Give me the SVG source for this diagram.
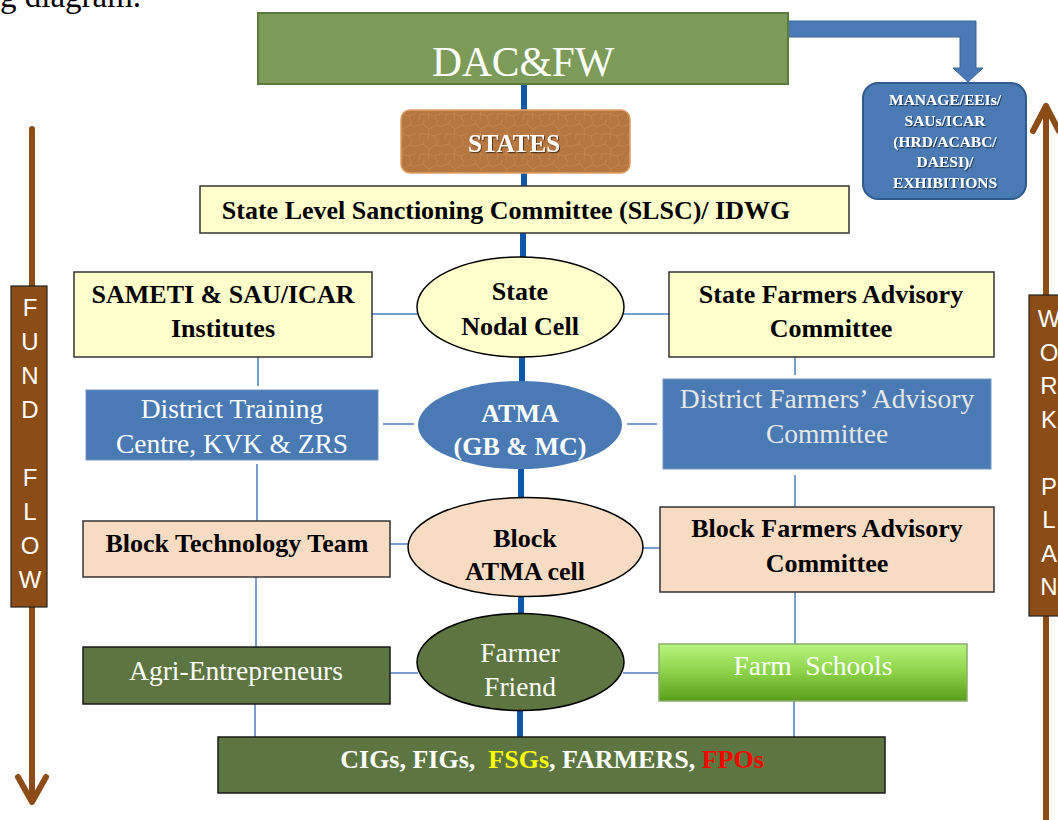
<svg xmlns="http://www.w3.org/2000/svg" width="1058" height="820" viewBox="0 0 1058 820">
<defs>
<style>
.bt{font-family:"Liberation Serif",serif;font-weight:bold;font-size:26px;text-anchor:middle;fill:#000}
.rt{font-family:"Liberation Serif",serif;font-size:27.5px;text-anchor:middle;fill:#fff}
.thin{stroke:#4a7ebb;stroke-width:1.5;fill:none}
.thick{stroke:#0f57a8;stroke-width:6;fill:none}
.yel{fill:#ffffcc;stroke:#333;stroke-width:1.5}
.peach{fill:#f8dbc3;stroke:#333;stroke-width:1.5}
.dgreen{fill:#5d7541;stroke:#1a1a1a;stroke-width:1.5}
.blue{fill:#4a7ab4}
.brown{fill:#8b4c16;stroke:#222;stroke-width:1.2}
.arr{stroke:#8b4c16;stroke-width:6;fill:none;stroke-linecap:round;stroke-linejoin:round}
.lt{font-family:"Liberation Sans",Arial,sans-serif;font-size:24px;fill:#fff;text-anchor:middle}
.mt{font-family:"Liberation Serif",serif;font-weight:bold;font-size:15.5px;fill:#fff;text-anchor:middle}
</style>
<filter id="sh" x="-10%" y="-30%" width="120%" height="160%">
<feDropShadow dx="1" dy="1.2" stdDeviation="0.6" flood-color="#000" flood-opacity="0.55"/>
</filter>
<linearGradient id="fs" x1="0" y1="0" x2="0" y2="1">
<stop offset="0" stop-color="#b9f480"/>
<stop offset="0.5" stop-color="#8ad247"/>
<stop offset="1" stop-color="#5a9d1c"/>
</linearGradient>
<pattern id="crack" width="26" height="20" patternUnits="userSpaceOnUse">
<path d="M0 6 L7 4 L13 9 L20 5 L26 7 M7 4 L8 0 M13 9 L12 20 M20 5 L22 0 M4 14 L12 14 L19 16 L26 13 M19 16 L20 20 M4 14 L3 20" stroke="#c99058" stroke-width="0.7" fill="none" opacity="0.75"/>
</pattern>
</defs>

<text x="0" y="7" font-family="Liberation Serif, serif" font-size="33" fill="#000">g diagram.</text>

<g id="connectors">
<polygon points="788,21 976,21 976,68 983,68 968,82 953,68 960,68 960,37 788,37" fill="#4a7ab5" stroke="#3a6496" stroke-width="1"/>
<line class="thick" x1="524" y1="84" x2="524" y2="110"/>
<line class="thick" x1="524" y1="173" x2="524" y2="186"/>
<line class="thick" x1="523" y1="233" x2="523" y2="258"/>
<line class="thick" x1="522" y1="356" x2="522" y2="382"/>
<line class="thick" x1="521" y1="468" x2="521" y2="498"/>
<line class="thick" x1="521" y1="596" x2="521" y2="614"/>
<line class="thick" x1="520" y1="710" x2="520" y2="737"/>
<line class="thin" x1="372" y1="314" x2="418" y2="314"/>
<line class="thin" x1="623" y1="314" x2="669" y2="314"/>
<line class="thin" x1="383" y1="424" x2="414" y2="424"/>
<line class="thin" x1="627" y1="424" x2="657" y2="424"/>
<line class="thin" x1="390" y1="544" x2="409" y2="544"/>
<line class="thin" x1="642" y1="548" x2="660" y2="548"/>
<line class="thin" x1="390" y1="673" x2="418" y2="673"/>
<line class="thin" x1="623" y1="673" x2="659" y2="673"/>
<line class="thin" x1="258" y1="357" x2="258" y2="386"/>
<line class="thin" x1="257" y1="464" x2="257" y2="521"/>
<line class="thin" x1="256" y1="577" x2="256" y2="647"/>
<line class="thin" x1="255" y1="704" x2="255" y2="737"/>
<line class="thin" x1="795" y1="357" x2="795" y2="375"/>
<line class="thin" x1="795" y1="475" x2="795" y2="507"/>
<line class="thin" x1="795" y1="592" x2="795" y2="644"/>
<line class="thin" x1="794" y1="701" x2="794" y2="737"/>
</g>

<g id="fund-flow">
<line class="arr" x1="32" y1="129" x2="32" y2="800"/>
<polyline class="arr" points="18,777 32,802 46,777"/>
<rect class="brown" x="11" y="286" width="36" height="321"/>
<text class="lt" x="30" y="316">F</text>
<text class="lt" x="30" y="350">U</text>
<text class="lt" x="30" y="384">N</text>
<text class="lt" x="30" y="418">D</text>
<text class="lt" x="30" y="486">F</text>
<text class="lt" x="30" y="520">L</text>
<text class="lt" x="30" y="554">O</text>
<text class="lt" x="30" y="588">W</text>
</g>

<g id="work-plan">
<line class="arr" x1="1046" y1="108" x2="1046" y2="825"/>
<polyline class="arr" points="1033,131 1046,106 1059,131"/>
<rect class="brown" x="1029" y="295" width="40" height="321"/>
<text class="lt" x="1049" y="327">W</text>
<text class="lt" x="1049" y="361">O</text>
<text class="lt" x="1049" y="394">R</text>
<text class="lt" x="1049" y="428">K</text>
<text class="lt" x="1049" y="495">P</text>
<text class="lt" x="1049" y="528">L</text>
<text class="lt" x="1049" y="562">A</text>
<text class="lt" x="1049" y="595">N</text>
</g>

<g id="dacfw">
<rect x="258" y="13" width="530" height="71" fill="#7c9b58" stroke="#5b7a3d" stroke-width="2"/>
<text x="523" y="76" font-family="Liberation Serif, serif" font-size="41.5" fill="#fff" text-anchor="middle">DAC&amp;FW</text>
</g>

<g id="manage">
<rect x="863" y="83" width="163" height="116" rx="15" fill="#4a7ab4" stroke="#2f5a8e" stroke-width="2"/>
<g filter="url(#sh)">
<text class="mt" x="945" y="105">MANAGE/EEIs/</text>
<text class="mt" x="945" y="126">SAUs/ICAR</text>
<text class="mt" x="945" y="147">(HRD/ACABC/</text>
<text class="mt" x="945" y="167">DAESI)/</text>
<text class="mt" x="945" y="188">EXHIBITIONS</text>
</g>
</g>

<g id="states">
<rect x="401" y="110" width="229" height="63" rx="9" fill="#b5773f" stroke="#e0a064" stroke-width="1.5"/>
<rect x="402" y="111" width="227" height="61" rx="8" fill="url(#crack)"/>
<text x="514" y="152" font-family="Liberation Serif, serif" font-weight="bold" font-size="25" fill="#fff" text-anchor="middle" filter="url(#sh)">STATES</text>
</g>

<g id="slsc">
<rect class="yel" x="200" y="186" width="649" height="47"/>
<text class="bt" x="506" y="219" font-size="27.5">State Level Sanctioning Committee (SLSC)/ IDWG</text>
</g>

<g id="sameti">
<rect class="yel" x="74" y="272" width="298" height="85"/>
<text class="bt" x="223" y="303">SAMETI &amp; SAU/ICAR</text>
<text class="bt" x="223" y="337">Institutes</text>
</g>

<g id="state-nodal-cell">
<ellipse cx="520.5" cy="307" rx="103.5" ry="50" fill="#ffffcc" stroke="#000" stroke-width="1.5"/>
<text class="bt" x="520" y="300">State</text>
<text class="bt" x="520" y="335">Nodal Cell</text>
</g>

<g id="state-fac">
<rect class="yel" x="669" y="272" width="325" height="85"/>
<text class="bt" x="831" y="303">State Farmers Advisory</text>
<text class="bt" x="831" y="337">Committee</text>
</g>

<g id="district-training">
<rect x="86" y="390" width="292" height="70" fill="#4a7ab4" stroke="#6f96c8" stroke-width="1"/>
<text class="rt" x="232" y="418">District Training</text>
<text class="rt" x="232" y="453">Centre, KVK &amp; ZRS</text>
</g>

<g id="atma">
<ellipse cx="520" cy="425" rx="102" ry="44" fill="#4a7ab4"/>
<text class="bt" x="520" y="422" style="fill:#fff">ATMA</text>
<text class="bt" x="520" y="455" font-size="22" style="fill:#fff">(GB &amp; MC)</text>
</g>

<g id="district-fac">
<rect x="663" y="379" width="328" height="90" fill="#4a7ab4" stroke="#6f96c8" stroke-width="1"/>
<text class="rt" x="827" y="408" style="fill:#e6e6e6">District Farmers’ Advisory</text>
<text class="rt" x="827" y="443" style="fill:#e6e6e6">Committee</text>
</g>

<g id="block-tech">
<rect class="peach" x="83" y="521" width="307" height="56"/>
<text class="bt" x="237" y="552">Block Technology Team</text>
</g>

<g id="block-atma">
<ellipse cx="525.5" cy="547" rx="117.5" ry="49.5" fill="#f8dbc3" stroke="#000" stroke-width="1.5"/>
<text class="bt" x="525" y="547">Block</text>
<text class="bt" x="525" y="580">ATMA cell</text>
</g>

<g id="block-fac">
<rect class="peach" x="660" y="507" width="334" height="85"/>
<text class="bt" x="827" y="537">Block Farmers Advisory</text>
<text class="bt" x="827" y="572">Committee</text>
</g>

<g id="agri">
<rect class="dgreen" x="83" y="647" width="307" height="57"/>
<text class="rt" x="236" y="680">Agri-Entrepreneurs</text>
</g>

<g id="farmer-friend">
<ellipse cx="520.5" cy="662" rx="103.5" ry="48.5" fill="#5d7541" stroke="#000" stroke-width="1.5"/>
<text class="rt" x="520" y="662">Farmer</text>
<text class="rt" x="520" y="696">Friend</text>
</g>

<g id="farm-schools">
<rect x="659" y="644" width="308" height="57" fill="url(#fs)" stroke="#8aad6a" stroke-width="1.5"/>
<text class="rt" x="813" y="675" xml:space="preserve">Farm  Schools</text>
</g>

<g id="cigs">
<rect class="dgreen" x="218" y="737" width="667" height="56"/>
<text class="bt" x="552" y="768" font-size="27" xml:space="preserve" style="fill:#fff">CIGs, FIGs,  <tspan style="fill:#ffff00">FSGs</tspan>, FARMERS, <tspan style="fill:#ff0000">FPOs</tspan></text>
</g>
</svg>
